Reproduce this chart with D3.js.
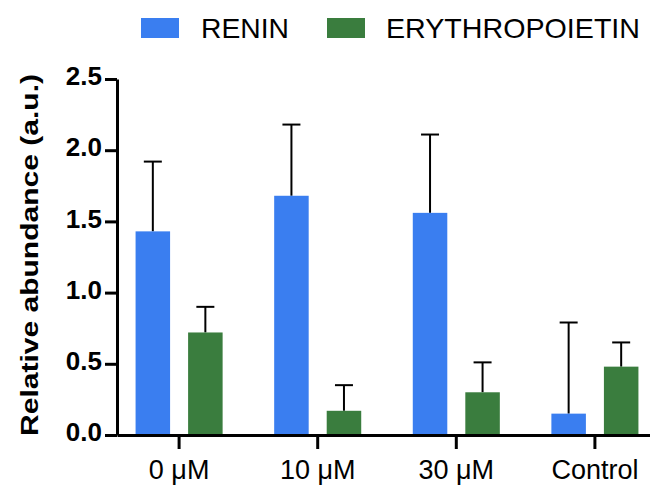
<!DOCTYPE html>
<html>
<head>
<meta charset="utf-8">
<script src="https://cdn.jsdelivr.net/npm/d3@7"></script>
<style>
  body { margin: 0; background: #fff; }
  svg { display: block; font-family: "Liberation Sans", Arial, Helvetica, sans-serif; }
</style>
</head>
<body>
<div id="chart"></div>
<script>
// groups and series
const groups = ["0 μM", "10 μM", "30 μM", "Control"];
const series = ["RENIN", "ERYTHROPOIETIN"];
const colors = ["#3a7ef0", "#3a7d3e"];
const reninMean = [1.43, 1.68, 1.56, 0.15];
const reninErr = [0.49, 0.50, 0.55, 0.64];
const epoMean = [0.72, 0.17, 0.30, 0.48];
const epoErr = [0.18, 0.18, 0.21, 0.17];
const yTicks = [0, 0.5, 1.0, 1.5, 2.0, 2.5];

const w = 650, h = 486;
const svg = d3.select("#chart").append("svg")
    .attr("width", w)
    .attr("height", h);

const x0 = 117, yBase = 435, yTop = 79;

const xScale = d3.scaleBand()
    .domain(groups)
    .range([x0, 657])
    .paddingInner(0.372)
    .paddingOuter(0.134);
const xSub = d3.scaleBand()
    .domain(series)
    .range([0, xScale.bandwidth()])
    .paddingInner(0.343);
const yScale = d3.scaleLinear()
    .domain([0, 2.5])
    .range([yBase, yTop]);

// build rows for drawing
const rows = [];
groups.forEach((g, i) => {
    rows.push({ group: g, s: series[0], mean: reninMean[i], err: reninErr[i] });
    rows.push({ group: g, s: series[1], mean: epoMean[i], err: epoErr[i] });
});

// error bars (upper only)
const eb = svg.append("g").attr("stroke", "#000").attr("stroke-width", 2);
rows.forEach(d => {
    const cx = xScale(d.group) + xSub(d.s) + xSub.bandwidth() / 2;
    eb.append("line")
        .attr("x1", cx).attr("x2", cx)
        .attr("y1", yScale(d.mean)).attr("y2", yScale(d.mean + d.err));
    eb.append("line")
        .attr("x1", cx - 9).attr("x2", cx + 9)
        .attr("y1", yScale(d.mean + d.err)).attr("y2", yScale(d.mean + d.err));
});

// bars
svg.append("g").selectAll("rect")
    .data(rows)
    .enter()
    .append("rect")
    .attr("x", d => xScale(d.group) + xSub(d.s))
    .attr("y", d => yScale(d.mean))
    .attr("width", xSub.bandwidth())
    .attr("height", d => yBase - yScale(d.mean))
    .attr("fill", d => colors[series.indexOf(d.s)]);

// axes
const yAxis = d3.axisLeft(yScale)
    .tickValues(yTicks)
    .tickFormat(d3.format(".1f"))
    .tickSize(12)
    .tickSizeOuter(0)
    .tickPadding(3);
const gy = svg.append("g")
    .attr("transform", "translate(" + x0 + ",0)")
    .call(yAxis);
gy.select(".domain").attr("stroke-width", 3);
gy.selectAll(".tick line").attr("stroke-width", 3);
gy.selectAll(".tick text")
    .attr("font-size", 26)
    .attr("font-weight", "bold")
    .attr("font-family", "Liberation Sans, Arial, sans-serif")
    .attr("dy", "0.22em")
    .attr("fill", "#000");

const xAxis = d3.axisBottom(xScale)
    .tickSize(14)
    .tickSizeOuter(0)
    .tickPadding(11);
const gx = svg.append("g")
    .attr("transform", "translate(0," + yBase + ")")
    .call(xAxis);
gx.select(".domain").attr("stroke-width", 3);
gx.selectAll(".tick line").attr("stroke-width", 3);
gx.selectAll(".tick text")
    .attr("font-size", 27)
    .attr("font-family", "Liberation Sans, Arial, sans-serif")
    .attr("fill", "#000");

// y title
svg.append("text")
    .attr("transform", "translate(38,255) rotate(-90)")
    .attr("text-anchor", "middle")
    .attr("font-size", 24)
    .attr("font-weight", "bold")
    .attr("textLength", 362)
    .attr("lengthAdjust", "spacingAndGlyphs")
    .text("Relative abundance (a.u.)");

// legend
const legendX = [141, 327];
const legendTextX = [201, 386];
const legendLen = [88, 254];
series.forEach((s, i) => {
    svg.append("rect")
        .attr("x", legendX[i]).attr("y", 18)
        .attr("width", 38).attr("height", 20)
        .attr("fill", colors[i]);
    svg.append("text")
        .attr("x", legendTextX[i]).attr("y", 38)
        .attr("font-size", 28)
        .attr("textLength", legendLen[i])
        .attr("lengthAdjust", "spacingAndGlyphs")
        .text(s);
});
</script>
</body>
</html>
